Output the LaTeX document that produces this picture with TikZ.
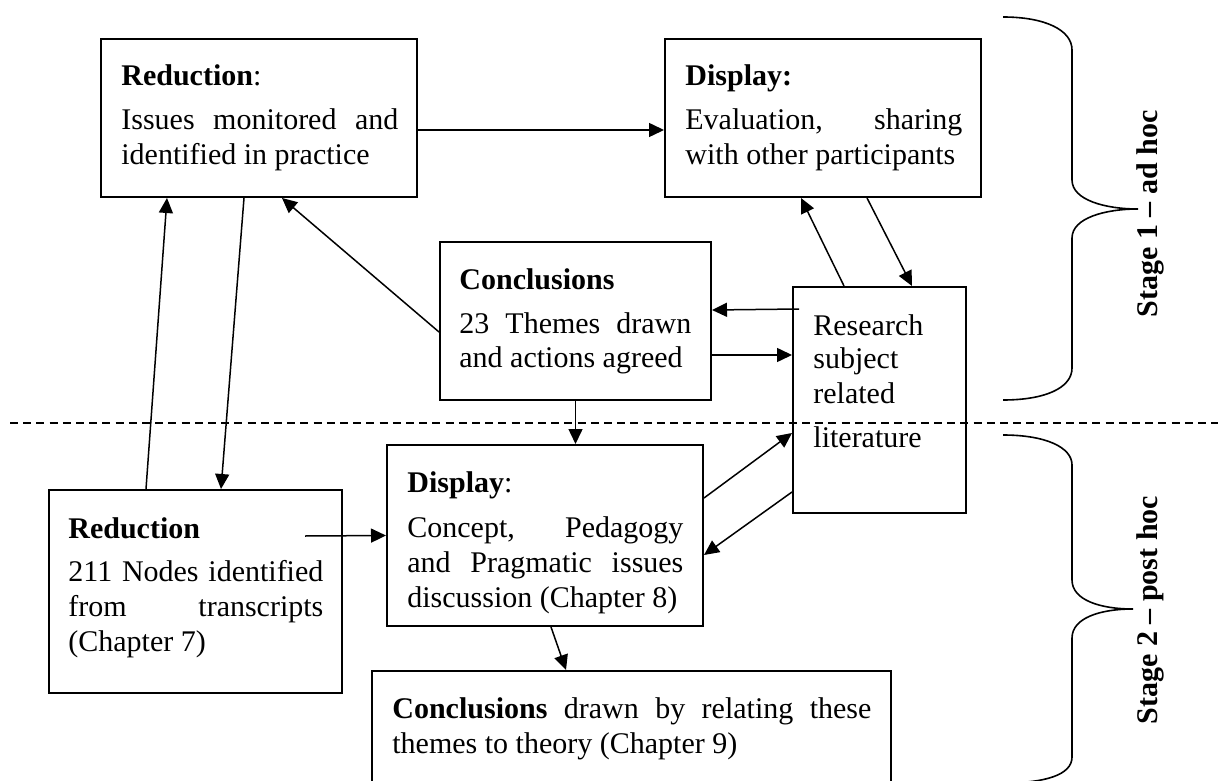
\documentclass[tikz,border=0pt]{standalone}
\usepackage{fontspec}
\setmainfont{Liberation Serif}
\usetikzlibrary{arrows.meta}

% one plain line, and one line stretched to a given width (justified)
\newcommand\txline[1]{\hbox{#1}}
\newcommand\jtline[2]{\hbox to #1{#2}}
% a block of lines whose reference point is the first baseline
\newcommand\boxtext[2]{\vtop{\baselineskip=#1\lineskiplimit=-100pt\lineskip=0pt #2}}

\tikzset{
  box/.style={draw, line width=1pt, inner sep=0pt, rectangle},
  txt/.style={anchor=base west, inner sep=0pt, font=\fontsize{15}{17.5}\selectfont},
  arr/.style={-{Triangle[length=7.5pt,width=7pt]}, line width=0.75pt},
  brace/.style={line width=0.8pt},
  stage/.style={rotate=90, anchor=base, inner sep=0pt, font=\fontsize{15}{17.5}\selectfont\bfseries},
}

\begin{document}
\begin{tikzpicture}[x=0.5pt, y=-0.5pt]
\useasboundingbox (0,0) rectangle (1218,780);

% boxes
\node[box, minimum width=158pt,   minimum height=79pt]   (A) at (259,118)   {};
\node[box, minimum width=158pt,   minimum height=79pt]   (B) at (823,118)   {};
\node[box, minimum width=135.5pt, minimum height=79pt]   (C) at (575.5,321) {};
\node[box, minimum width=86.5pt,  minimum height=113pt]  (D) at (879.5,400) {};
\node[box, minimum width=158pt,   minimum height=90.5pt] (E) at (545,535.5) {};
\node[box, minimum width=146.5pt, minimum height=101.5pt](F) at (195.5,591.5){};
\node[box, minimum width=259.5pt, minimum height=57pt]   (G) at (631.5,728) {};

% box texts
\node[txt] (tA) at (121,86) {\boxtext{17.5pt}{%
  \txline{\textbf{Reduction}:}\vskip4.25pt
  \jtline{138.5pt}{Issues monitored and}
  \txline{identified in practice}}};
\node[txt] (tB) at (685,86) {\boxtext{17.5pt}{%
  \txline{\textbf{Display:}}\vskip4.25pt
  \jtline{138.5pt}{Evaluation, sharing}
  \txline{with other participants}}};
\node[txt] (tC) at (459,290) {\boxtext{17.5pt}{%
  \txline{\textbf{Conclusions}}\vskip4pt
  \jtline{116pt}{23 Themes drawn}
  \txline{and actions agreed}}};
\node[txt] (tD) at (813,335) {\boxtext{17pt}{%
  \txline{Research}
  \txline{subject}
  \txline{related}\vskip5pt
  \txline{literature}}};
\node[txt] (tE) at (407,492) {\boxtext{17.5pt}{%
  \txline{\textbf{Display}:}\vskip5pt
  \jtline{138pt}{Concept, Pedagogy}
  \jtline{138pt}{and Pragmatic issues}
  \txline{discussion (Chapter 8)}}};
\node[txt] (tF) at (68,538) {\boxtext{17.5pt}{%
  \txline{\textbf{Reduction}}\vskip4.25pt
  \jtline{127.5pt}{211 Nodes identified}
  \jtline{127.5pt}{from transcripts}
  \txline{(Chapter 7)}}};
\node[txt] (tG) at (392,718) {\boxtext{17.5pt}{%
  \jtline{239.5pt}{\textbf{Conclusions} drawn by relating these}
  \txline{themes to theory (Chapter 9)}}};

% connectors
\draw[arr] ([yshift=-6pt]A.east) -- ([yshift=-6pt]B.west);
\draw[arr] ([xshift=49pt]F.north west) -- ([xshift=33.5pt]A.south west);
\draw[arr] ([xshift=72pt]A.south west) -- ([xshift=86.5pt]F.north west);
\draw[arr] ([yshift=-5.5pt]C.west) -- ([xshift=91pt]A.south west);
\draw[arr] ([xshift=26pt]D.north west) -- ([xshift=68.5pt]B.south west);
\draw[arr] ([xshift=101.5pt]B.south west) -- ([xshift=60pt]D.north west);
\draw[arr] ([xshift=3.5pt,yshift=-11.5pt]D.north west) -- ([yshift=5.5pt]C.east);
\draw[arr] ([yshift=-17pt]C.east) -- ([yshift=22.5pt]D.west);
\draw[arr] (C.south) -- (C.south |- E.north);
\draw[arr] ([xshift=-19pt,yshift=27.75pt]F.east) -- (E.west);
\draw[arr] ([yshift=18.75pt]E.east) -- ([yshift=-16.5pt]D.west);
\draw[arr] ([yshift=-46pt]D.west) -- ([yshift=-9.75pt]E.east);
\draw[arr] ([xshift=82.5pt]E.south west) -- ([xshift=97.5pt]G.north west);

% boundary between the two stages
\draw[line width=0.6pt, dash pattern=on 4pt off 2.6pt] (10,423) -- (1218,423);

% stage braces
\draw[brace] (1003,17) .. controls (1045,17) and (1072,30) .. (1072,50)
  -- (1072,180) .. controls (1072,200) and (1105,209) .. (1138,209)
  .. controls (1105,209) and (1072,218) .. (1072,238)
  -- (1072,368) .. controls (1072,388) and (1045,400) .. (1003,400);
\draw[brace] (1003,435) .. controls (1045,435) and (1072,447) .. (1072,465)
  -- (1072,580) .. controls (1072,600) and (1100,609) .. (1133,609)
  .. controls (1100,609) and (1072,618) .. (1072,638)
  -- (1072,757) .. controls (1072,775) and (1045,783) .. (1003,783);

\node[stage] (s1) at (1157,214) {Stage 1 -- ad hoc};
\node[stage] (s2) at (1157,610) {Stage 2 -- post hoc};
\end{tikzpicture}
\end{document}
